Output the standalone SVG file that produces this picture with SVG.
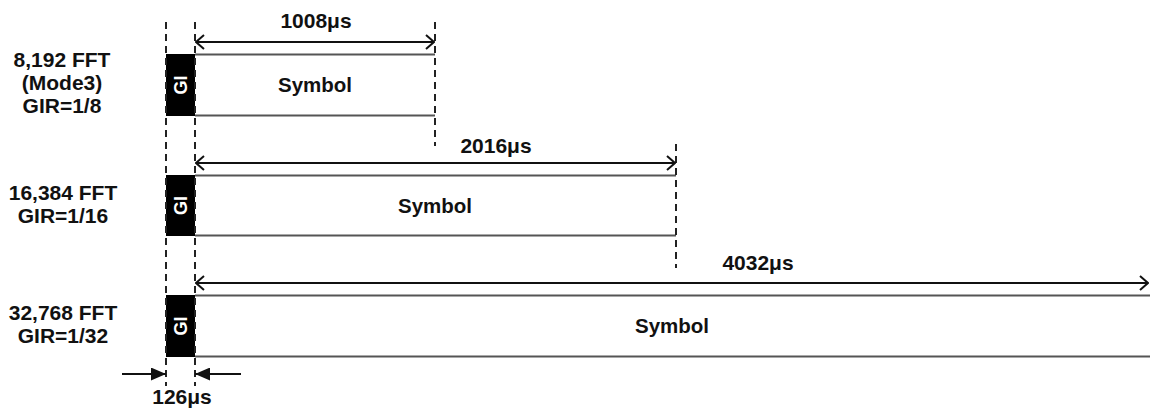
<svg xmlns="http://www.w3.org/2000/svg" width="1150" height="410" viewBox="0 0 1150 410">
<style>
.lbl{font-family:"Liberation Sans",Arial,sans-serif;font-weight:bold;font-size:21px;fill:#111;text-anchor:middle}
.sym{font-family:"Liberation Sans",Arial,sans-serif;font-weight:bold;font-size:20.5px;fill:#111;text-anchor:middle}
.gi{font-family:"Liberation Sans",Arial,sans-serif;font-weight:bold;font-size:18px;fill:#fff;text-anchor:middle}
.box{stroke:#555;stroke-width:2;fill:none}
.dash{stroke:#222;stroke-width:2;stroke-dasharray:7,5;fill:none}
.dim{stroke:#111;stroke-width:2;fill:none}
</style>
<defs>
<marker id="open" viewBox="0 0 10 16" refX="9" refY="8" markerWidth="10" markerHeight="16" markerUnits="userSpaceOnUse" orient="auto-start-reverse">
<path d="M1,1 L9,8 L1,15" fill="none" stroke="#111" stroke-width="2"/>
</marker>
<marker id="fill" viewBox="0 0 15 13" refX="15" refY="6.5" markerWidth="15" markerHeight="13" markerUnits="userSpaceOnUse" orient="auto">
<path d="M0,0 L15,6.5 L0,13 Z" fill="#111"/>
</marker>
</defs>
<g id="row1">
<text class="lbl" x="62" y="67">8,192 FFT</text>
<text class="lbl" x="62" y="90">(Mode3)</text>
<text class="lbl" x="62" y="113">GIR=1/8</text>
<rect x="166" y="54" width="29" height="62" fill="#000"/>
<text class="gi" transform="translate(187,85) rotate(-90)">GI</text>
<line class="box" x1="195" y1="54.5" x2="435" y2="54.5"/>
<line class="box" x1="195" y1="115.5" x2="435" y2="115.5"/>
<text class="sym" x="315" y="92">Symbol</text>
</g>
<g id="row2">
<text class="lbl" x="63" y="200">16,384 FFT</text>
<text class="lbl" x="63" y="223">GIR=1/16</text>
<rect x="166" y="175" width="29" height="61" fill="#000"/>
<text class="gi" transform="translate(187,205.5) rotate(-90)">GI</text>
<line class="box" x1="195" y1="175.5" x2="676" y2="175.5"/>
<line class="box" x1="195" y1="235.5" x2="676" y2="235.5"/>
<text class="sym" x="435" y="212.5">Symbol</text>
</g>
<g id="row3">
<text class="lbl" x="63" y="320">32,768 FFT</text>
<text class="lbl" x="63" y="343">GIR=1/32</text>
<rect x="166" y="295" width="29" height="62" fill="#000"/>
<text class="gi" transform="translate(187,326) rotate(-90)">GI</text>
<line class="box" x1="195" y1="295.5" x2="1150" y2="295.5"/>
<line class="box" x1="195" y1="356.5" x2="1150" y2="356.5"/>
<text class="sym" x="672" y="333">Symbol</text>
</g>
<g id="connectors">
<line class="dash" x1="166" y1="22" x2="166" y2="386"/>
<line class="dash" x1="195" y1="22" x2="195" y2="386"/>
<line class="dash" x1="435" y1="22" x2="435" y2="146"/>
<line class="dash" x1="676" y1="144" x2="676" y2="268"/>
<line class="dim" x1="196" y1="42" x2="434" y2="42" marker-start="url(#open)" marker-end="url(#open)"/>
<line class="dim" x1="196" y1="163" x2="675" y2="163" marker-start="url(#open)" marker-end="url(#open)"/>
<line class="dim" x1="196" y1="283" x2="1148" y2="283" marker-start="url(#open)" marker-end="url(#open)"/>
<line class="dim" x1="122" y1="374" x2="166" y2="374" marker-end="url(#fill)"/>
<line class="dim" x1="241" y1="374" x2="195" y2="374" marker-end="url(#fill)"/>
</g>
<g id="dimlabels">
<text class="lbl" x="316" y="28">1008μs</text>
<text class="lbl" x="496" y="153">2016μs</text>
<text class="lbl" x="758" y="270">4032μs</text>
<text class="lbl" x="182" y="404">126μs</text>
</g>
</svg>
